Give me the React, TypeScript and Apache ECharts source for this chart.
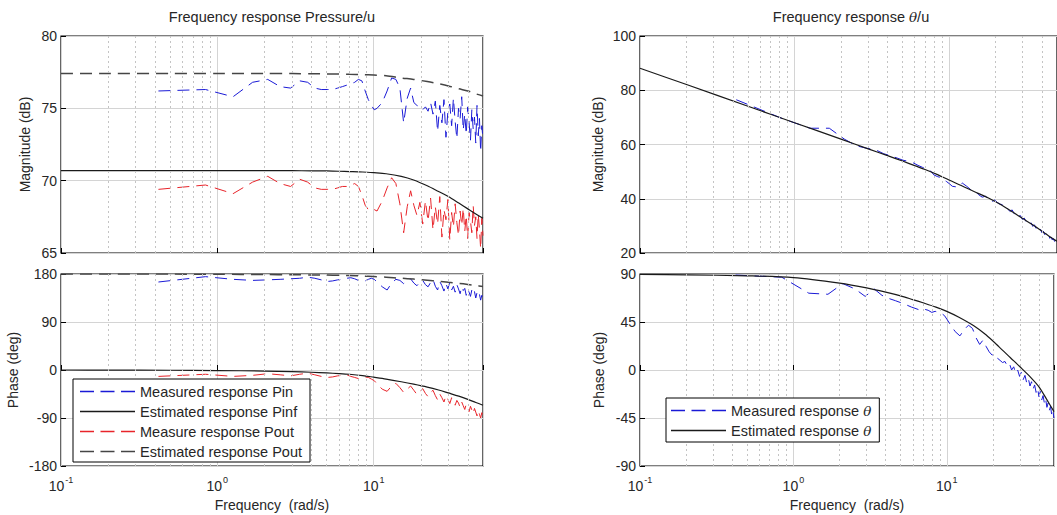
import React, { useEffect, useRef } from 'react';
import * as echarts from 'echarts';

// ---------- data ----------
const measFreq = [
  0.42, 0.84, 1.26, 1.68, 2.1, 2.52, 2.94, 3.36, 3.78, 4.2,
  4.62, 5.04, 5.46, 5.88, 6.3, 6.72, 7.14, 7.56, 7.98, 8.4,
  8.82, 9.24, 9.66, 10.08, 10.5, 11.34, 12.18, 13.02, 13.86, 14.7,
  15.54, 16.38, 17.22, 18.06, 18.9, 19.74, 20.58, 21.42, 22.26, 23.1,
  23.94, 24.78, 25.62, 26.46, 27.3, 28.14, 28.98, 29.82, 30.66, 31.5,
  32.34, 33.18, 34.02, 34.86, 35.7, 36.54, 37.38, 38.22, 39.06, 39.9,
  40.74, 41.58, 42.42, 43.26, 44.1, 44.94, 45.78, 46.62, 47.46, 48.3,
  49.14, 49.98,
];

const pinMag = [
  76.2, 76.3, 75.8, 76.8, 77.0, 76.5, 76.4, 76.9, 76.8, 76.4,
  76.3, 76.3, 76.3, 76.4, 76.5, 76.6, 76.7, 76.8, 77.0, 76.9,
  76.2, 75.6, 75.2, 74.9, 75.0, 75.4, 76.2, 77.1, 77.0, 76.4,
  74.0, 75.7, 76.4, 75.4, 75.2, 75.1, 74.9, 75.1, 74.8, 75.4,
  74.6, 75.5, 73.4, 75.2, 74.0, 75.6, 73.0, 74.8, 75.3, 73.8,
  75.7, 74.1, 72.9, 75.0, 74.3, 75.8, 73.5, 74.6, 73.2, 75.1,
  74.0, 72.8, 74.9, 73.6, 74.4, 72.6, 75.2, 73.1, 74.3, 72.0,
  73.8, 72.9,
];

const poutMag = [
  69.4, 69.7, 69.1, 69.9, 70.3, 69.8, 69.6, 70.1, 69.9, 69.5,
  69.4, 69.4, 69.4, 69.5, 69.6, 69.6, 69.7, 69.8, 69.6, 69.0,
  68.3, 68.0, 67.9, 68.0, 67.9, 68.6, 69.5, 70.2, 69.8, 68.4,
  66.4, 68.2, 69.3, 68.3, 67.6, 68.5, 67.0, 68.6, 67.2, 68.8,
  66.6, 68.2, 67.0, 68.9, 66.1, 68.0, 67.3, 68.7, 65.9, 67.8,
  66.8, 68.4, 67.1, 66.2, 67.9, 66.9, 68.1, 66.5, 67.6, 66.0,
  67.8, 67.2, 66.4, 68.3, 66.9, 67.5, 66.0, 67.7, 66.6, 65.3,
  67.4, 66.2,
];

const pinPhase = [
  165, 175, 170, 168, 169, 170, 171, 172, 174, 172,
  169, 166, 167, 169, 170, 172, 173, 171, 168, 166,
  167, 170, 172, 170, 165, 156, 150, 163, 170, 168,
  162, 167, 171, 163, 158, 165, 168, 160, 156, 164,
  170, 157, 150, 166, 158, 148, 162, 152, 165, 150,
  157, 146, 160, 152, 143, 156, 149, 153, 140, 151,
  146, 138, 150, 142, 147, 135, 145, 138, 142, 131,
  140, 134,
];

const poutPhase = [
  -12, -8, -12, -10, -7, -9, -11, -8, -6, -9,
  -12, -14, -13, -11, -10, -9, -12, -14, -16, -15,
  -13, -14, -17, -20, -26, -36, -40, -30, -25, -33,
  -42, -36, -30, -38, -46, -40, -35, -44, -50, -42,
  -38, -48, -56, -45, -52, -60, -48, -55, -63, -52,
  -58, -66, -57, -62, -70, -60, -67, -74, -64, -70,
  -78, -68, -75, -82, -72, -79, -86, -76, -83, -90,
  -80, -88,
];

const thetaMag = [
  76.5, 69.5, 66.0, 66.0, 62.0, 59.5, 58.6, 58.0, 56.6, 55.8,
  55.0, 54.2, 53.8, 53.2, 52.3, 51.6, 51.0, 50.4, 48.8, 48.2,
  47.8, 47.0, 46.3, 45.5, 44.6, 44.3, 45.8, 44.6, 43.3, 42.9,
  41.5, 40.6, 40.9, 39.9, 38.9, 39.5, 38.6, 38.0, 37.8, 37.9,
  36.4, 35.3, 35.9, 34.4, 34.9, 33.5, 33.8, 32.4, 32.9, 31.6,
  32.0, 30.7, 31.1, 29.8, 30.4, 29.1, 29.6, 28.3, 28.8, 27.5,
  28.1, 26.8, 27.3, 26.1, 26.7, 25.4, 25.9, 24.8, 25.3, 24.1,
  24.6, 23.6,
];

const thetaPhase = [
  89, 87, 72, 71, 81, 76, 69, 76, 70, 67,
  65, 63, 61, 59, 57.5, 56, 57, 56, 54, 55,
  54, 53, 51, 47, 43, 36, 32, 38, 42, 39,
  30, 24, 28, 22, 17, 14, 15, 11, 9, 7,
  8, 4, 6, 0, 3, -3, 0, -6, -2, -9,
  -5, -12, -8, -15, -11, -18, -14, -21, -17, -25,
  -20, -28, -24, -31, -27, -35, -31, -38, -34, -42,
  -38, -45,
];

const estFreq = [0.1, 0.2, 0.5, 1, 2, 3, 4, 5, 6, 7, 8.5, 10, 12, 15, 18, 22, 26, 30, 35, 40, 45, 50];
const pinfEstMag = [70.7, 70.7, 70.7, 70.7, 70.7, 70.69, 70.68, 70.67, 70.65, 70.63, 70.6, 70.55, 70.48, 70.3, 70.05, 69.65, 69.25, 68.9, 68.45, 68.05, 67.7, 67.4];
const poutEstMag = [77.4, 77.4, 77.4, 77.4, 77.4, 77.4, 77.39, 77.38, 77.37, 77.35, 77.33, 77.3, 77.25, 77.1, 77.0, 76.85, 76.7, 76.55, 76.35, 76.2, 76.0, 75.85];
const pinfEstPhase = [0, -0.2, -0.5, -1, -2, -3, -4.2, -5.5, -6.7, -8, -10.5, -13.5, -17, -22, -26.5, -32, -37.5, -43, -49, -55, -61, -66];
const poutEstPhase = [180, 180, 179.8, 179.5, 179, 178.6, 178.3, 178, 177.6, 177.2, 176.2, 175.2, 174, 172, 170.5, 168.5, 166.5, 164.5, 162.5, 160.5, 158.5, 156.5];
const thetaEstMag = [88.1, 82.1, 74.1, 68.0, 62.0, 58.4, 55.9, 53.9, 52.2, 50.8, 48.8, 46.9, 44.9, 42.3, 40.3, 37.6, 35.0, 32.7, 30.3, 28.0, 26.0, 24.3];
const thetaEstPhase = [89.6, 89.2, 88.3, 86.6, 81.4, 77, 73, 69.5, 66, 63, 59, 55, 49.5, 41.5, 33, 21.5, 11.5, 3, -6.5, -16, -28, -39];

const minorFreq = [0.2, 0.3, 0.4, 0.5, 0.6, 0.7, 0.8, 0.9, 2, 3, 4, 5, 6, 7, 8, 9, 20, 30, 40];

const leftNames = ['Measured response Pin', 'Estimated response Pinf', 'Measure response Pout', 'Estimated response Pout'];
const leftDashed = [true, false, true, true];
const rightNames = ['Measured response θ', 'Estimated response θ'];
const rightDashed = [true, false];
const titles = ['Frequency response Pressure/u', 'Frequency response {i|θ}/u'];

// ---------- styling ----------
const FONT = '"Liberation Sans", Arial, Helvetica, sans-serif';
const TXT = '#262626';
const BLUE = '#1a1ad6';
const RED = '#e8242a';
const BLACK = '#1a1a1a';
const GRAY = '#454545';
const DASH = [12, 7];
const ICON_DASHED = 'path://M0,0H14V1.3H0Z M20.5,0H34.5V1.3H20.5Z M41,0H55V1.3H41Z';
const ICON_SOLID = 'path://M0,0H55V1.3H0Z';

const pair = (xs: number[], ys: number[]) => xs.map((x, i) => [x, ys[i]]);

const gridBox = [
  { left: 61, top: 36, width: 422, height: 217 },
  { left: 61, top: 274, width: 422, height: 192 },
  { left: 640, top: 36, width: 422, height: 217 },
  { left: 640, top: 274, width: 422, height: 192 },
];

const xLabelFormatter = (v: number) => {
  const e = Math.log10(v);
  const r = Math.round(e);
  if (Math.abs(e - r) > 1e-6) return '';
  return `{b|10}{s|${r}}`;
};

const makeX = (gi: number, bottom: boolean) => ({
  type: 'log',
  logBase: 10,
  min: 0.1,
  max: 50,
  gridIndex: gi,
  axisLine: { show: false },
  axisTick: { show: true, inside: true, length: 5, lineStyle: { color: '#000' } },
  axisLabel: {
    show: bottom,
    formatter: xLabelFormatter,
    margin: 9,
    color: TXT,
    rich: {
      b: { fontSize: 14, fontFamily: FONT, color: TXT, verticalAlign: 'bottom', lineHeight: 18 },
      s: { fontSize: 9, fontFamily: FONT, color: TXT, verticalAlign: 'top', lineHeight: 18, padding: [0, 0, 6, 1] },
    },
  },
  splitLine: { show: true, lineStyle: { color: '#d4d4d4', width: 1 } },
  name: bottom ? 'Frequency  (rad/s)' : '',
  nameLocation: 'middle',
  nameGap: 32,
  nameTextStyle: { fontSize: 14, fontFamily: FONT, color: TXT },
});

const makeY = (gi: number, min: number, max: number, interval: number, name: string, gap: number) => ({
  type: 'value',
  gridIndex: gi,
  min,
  max,
  interval,
  axisLine: { show: false },
  axisTick: { show: true, inside: true, length: 5, lineStyle: { color: '#000' } },
  axisLabel: { fontSize: 14, fontFamily: FONT, color: TXT, margin: 4 },
  splitLine: { show: true, lineStyle: { color: '#d4d4d4', width: 1 } },
  name,
  nameLocation: 'middle',
  nameGap: gap,
  nameTextStyle: { fontSize: 14, fontFamily: FONT, color: TXT },
});

const line = (name: string, gi: number, data: number[][], color: string, dashed: boolean, width = 1, z = 3, smooth = false) => ({
  type: 'line',
  name,
  xAxisIndex: gi,
  yAxisIndex: gi,
  data,
  symbol: 'none',
  showSymbol: false,
  smooth: smooth ? 0.3 : false,
  lineStyle: { color, width, type: dashed ? DASH : 'solid' },
  itemStyle: { color },
  z,
});

const minorSeries = (gi: number) => ({
  type: 'line',
  name: 'minor' + gi,
  xAxisIndex: gi,
  yAxisIndex: gi,
  data: [],
  silent: true,
  z: 1,
  markLine: {
    silent: true,
    symbol: ['none', 'none'],
    label: { show: false },
    lineStyle: { color: '#c4c4c4', type: [2, 3], width: 1 },
    data: minorFreq.map((f) => ({ xAxis: f })),
  },
});

export default function App() {
  const ref = useRef<HTMLDivElement>(null);

  useEffect(() => {
    if (!ref.current) return;
    const chart = echarts.init(ref.current, undefined, { renderer: 'svg' });

    const legendCommon = {
      orient: 'vertical',
      itemWidth: 55,
      itemHeight: 14,
      itemGap: 5,
      borderColor: '#000',
      borderWidth: 1,
      backgroundColor: '#fff',
      selectedMode: false,
      symbolKeepAspect: true,
      textStyle: {
        fontSize: 14.5,
        fontFamily: FONT,
        color: TXT,
        lineHeight: 15,
        rich: { i: { fontStyle: 'italic', fontFamily: '"DejaVu Serif", serif', fontSize: 13.5, color: TXT, lineHeight: 15 } },
      },
      formatter: (n: string) => n.replace('θ', '{i|θ}'),
      z: 10,
    };

    chart.setOption({
      animation: false,
      backgroundColor: '#fff',
      textStyle: { fontFamily: FONT },
      grid: gridBox.map((g) => ({ ...g, show: true, borderColor: '#000', borderWidth: 1.2, backgroundColor: 'transparent', containLabel: false })),
      xAxis: [makeX(0, false), makeX(1, true), makeX(2, false), makeX(3, true)],
      yAxis: [
        makeY(0, 65, 80, 5, 'Magnitude (dB)', 29),
        makeY(1, -180, 180, 90, 'Phase (deg)', 41),
        makeY(2, 20, 100, 20, 'Magnitude (dB)', 35),
        makeY(3, -90, 90, 45, 'Phase (deg)', 34),
      ],
      legend: [
        {
          ...legendCommon,
          data: leftNames.map((n, i) => ({ name: n, icon: leftDashed[i] ? ICON_DASHED : ICON_SOLID })),
          left: 73,
          top: 379,
          padding: [5, 8, 3, 7],
        },
        {
          ...legendCommon,
          data: rightNames.map((n, i) => ({ name: n, icon: rightDashed[i] ? ICON_DASHED : ICON_SOLID })),
          left: 666,
          top: 398,
          padding: [5, 8, 4, 5],
        },
      ],
      graphic: [
        {
          type: 'text',
          x: 272,
          y: 17,
          style: {
            text: titles[0],
            align: 'center',
            verticalAlign: 'middle',
            textAlign: 'center',
            textVerticalAlign: 'middle',
            fontSize: 14.5,
            fontFamily: FONT,
            fill: TXT,
          },
        },
        {
          type: 'text',
          x: 851,
          y: 17,
          style: {
            text: titles[1],
            align: 'center',
            verticalAlign: 'middle',
            textAlign: 'center',
            textVerticalAlign: 'middle',
            fontSize: 14.5,
            fontFamily: FONT,
            fill: TXT,
            rich: { i: { fontStyle: 'italic', fontFamily: '"DejaVu Serif", serif', fontSize: 13.5, fill: TXT } },
          },
        },
      ],
      series: [
        minorSeries(0),
        minorSeries(1),
        minorSeries(2),
        minorSeries(3),
        // left magnitude
        line(leftNames[0], 0, pair(measFreq, pinMag), BLUE, true, 1),
        line(leftNames[2], 0, pair(measFreq, poutMag), RED, true, 1),
        line(leftNames[1], 0, pair(estFreq, pinfEstMag), BLACK, false, 1.2, 4, true),
        line(leftNames[3], 0, pair(estFreq, poutEstMag), GRAY, true, 1.5, 4, true),
        // left phase
        line(leftNames[0], 1, pair(measFreq, pinPhase), BLUE, true, 1),
        line(leftNames[2], 1, pair(measFreq, poutPhase), RED, true, 1),
        line(leftNames[1], 1, pair(estFreq, pinfEstPhase), BLACK, false, 1.2, 4, true),
        line(leftNames[3], 1, pair(estFreq, poutEstPhase), GRAY, true, 1.5, 4, true),
        // right magnitude
        line(rightNames[0], 2, pair(measFreq, thetaMag), BLUE, true, 1),
        line(rightNames[1], 2, pair(estFreq, thetaEstMag), BLACK, false, 1.2, 4, true),
        // right phase
        line(rightNames[0], 3, pair(measFreq, thetaPhase), BLUE, true, 1),
        line(rightNames[1], 3, pair(estFreq, thetaEstPhase), BLACK, false, 1.2, 4, true),
      ],
    });

    return () => chart.dispose();
  }, []);

  return (
    <div
      ref={ref}
      style={{ position: 'fixed', left: 0, top: 0, width: 1057, height: 515, background: '#fff' }}
    />
  );
}
